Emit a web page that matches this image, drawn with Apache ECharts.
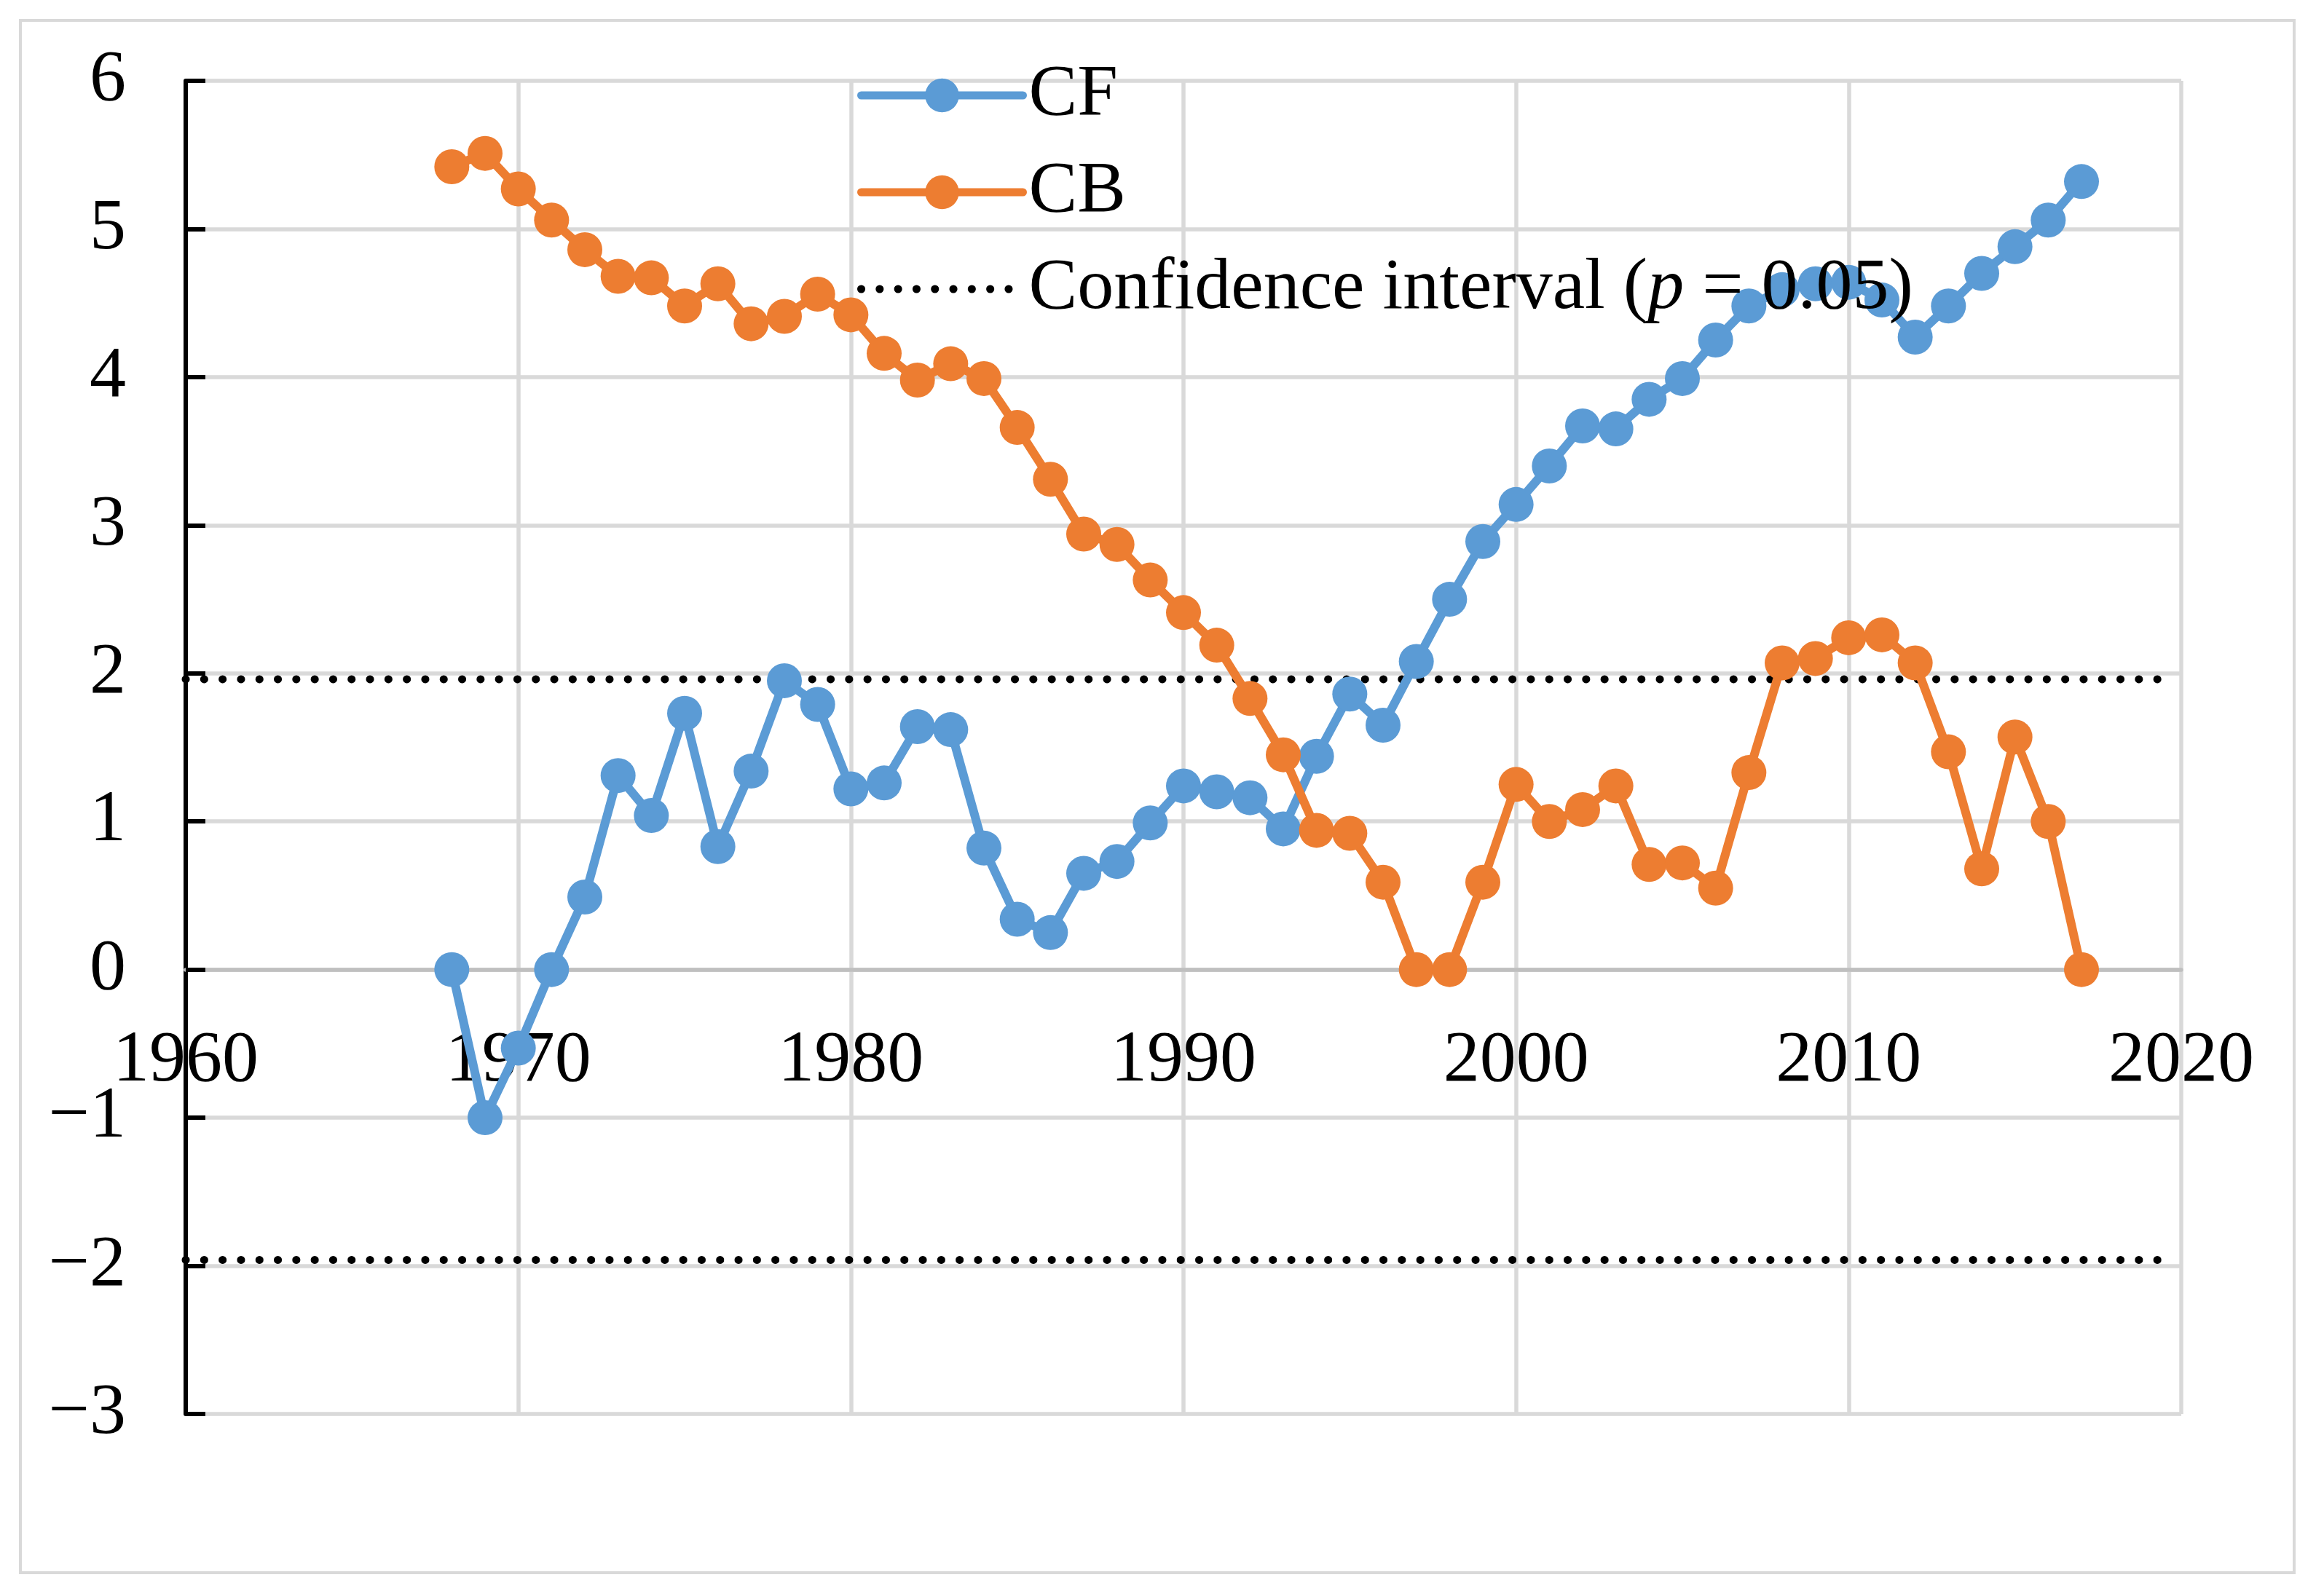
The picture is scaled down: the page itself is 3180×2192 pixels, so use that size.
<!DOCTYPE html>
<html>
<head>
<meta charset="utf-8">
<script src="https://cdn.jsdelivr.net/npm/echarts@6/dist/echarts.min.js"></script>
<style>
html,body{margin:0;padding:0;background:#fff;}
#chart{width:3180px;height:2192px;}
</style>
</head>
<body>
<div id="chart"></div>
<script>
var years = [1968,1969,1970,1971,1972,1973,1974,1975,1976,1977,1978,1979,1980,1981,1982,1983,1984,1985,1986,1987,1988,1989,1990,1991,1992,1993,1994,1995,1996,1997,1998,1999,2000,2001,2002,2003,2004,2005,2006,2007,2008,2009,2010,2011,2012,2013,2014,2015,2016,2017];
var cfValues = [0,-1.0,-0.53,0,0.49,1.31,1.04,1.73,0.83,1.34,1.95,1.79,1.22,1.26,1.64,1.62,0.82,0.34,0.25,0.65,0.73,0.99,1.24,1.2,1.16,0.95,1.44,1.86,1.65,2.08,2.5,2.89,3.14,3.40,3.67,3.65,3.85,3.99,4.25,4.48,4.59,4.63,4.64,4.52,4.27,4.48,4.70,4.88,5.06,5.32];
var cbValues = [5.42,5.51,5.27,5.06,4.86,4.68,4.67,4.48,4.63,4.36,4.41,4.56,4.42,4.16,3.98,4.09,3.99,3.66,3.31,2.94,2.87,2.63,2.41,2.19,1.83,1.45,0.94,0.92,0.59,0,0,0.59,1.25,1.0,1.08,1.24,0.71,0.72,0.55,1.33,2.07,2.10,2.24,2.26,2.07,1.47,0.68,1.57,1.0,0];
var ciUpper = [[1960,1.96],[2019.6,1.96]];
var ciLower = [[1960,-1.96],[2019.6,-1.96]];
var seriesNames = ['CF','CB','Confidence interval (p = 0.05)'];

function pairs(xs, ys){ return xs.map(function(x,i){ return [x, ys[i]]; }); }

var FONT = '"Liberation Serif","Times New Roman",serif';
var BLUE = '#5B9BD5', ORANGE = '#ED7D31';
var GRID_TOP = 111, GRID_BOTTOM = 250, H = 2192;
var plotH = H - GRID_TOP - GRID_BOTTOM;
var zeroOffset = -(plotH * 3 / 9);

var chart = echarts.init(document.getElementById('chart'));
var ciStyle = {color:'#000', width:11, type:[0.1,25.2], cap:'round'};
chart.setOption({
  animation:false,
  backgroundColor:'#fff',
  graphic:[{type:'rect', shape:{x:28,y:28,width:3122,height:2132}, style:{fill:'none', stroke:'#d9d9d9', lineWidth:4}, z:-1}],
  grid:{left:255, right:185, top:GRID_TOP, bottom:GRID_BOTTOM, containLabel:false},
  legend:{
    orient:'vertical', left:1172, top:76, itemGap:33,
    itemWidth:222, itemHeight:58,
    lineStyle:{width:11, cap:'round'},
    data:[{name:seriesNames[0]},{name:seriesNames[1]},{name:seriesNames[2], itemStyle:{opacity:0}}],
    formatter:function(n){ return n.indexOf('Confidence')===0 ? '{a|Confidence interval (}{i|p}{a| = 0.05)}' : '{a|'+n+'}'; },
    textStyle:{fontFamily:FONT, fontSize:100, color:'#000', padding:[0,0,0,3],
      rich:{a:{fontFamily:FONT,fontSize:100,color:'#000'}, i:{fontFamily:FONT,fontSize:100,fontStyle:'italic',color:'#000'}}}
  },
  xAxis:{
    type:'value', min:1960, max:2020, interval:10, position:'bottom', offset:zeroOffset,
    axisLine:{onZero:false, lineStyle:{color:'#bfbfbf', width:5.5}},
    axisTick:{show:false},
    axisLabel:{fontFamily:FONT, fontSize:100, color:'#000', margin:76, formatter:function(v){ return String(v); }},
    splitLine:{show:true, lineStyle:{color:'#d9d9d9', width:5.5}}
  },
  yAxis:{
    type:'value', min:-3, max:6, interval:1,
    axisLine:{show:true, onZero:false, lineStyle:{color:'#000', width:6}},
    axisTick:{show:true, inside:true, length:27, lineStyle:{color:'#000', width:6}},
    axisLabel:{fontFamily:FONT, fontSize:100, color:'#000', margin:82,
      formatter:function(v){ return String(v).replace('-', '\u2212'); }},
    splitLine:{show:true, lineStyle:{color:'#d9d9d9', width:5.5}}
  },
  series:[
    {name:seriesNames[0], type:'line', data:pairs(years,cfValues), symbol:'circle', symbolSize:48,
      lineStyle:{color:BLUE, width:12}, itemStyle:{color:BLUE}, z:3},
    {name:seriesNames[1], type:'line', data:pairs(years,cbValues), symbol:'circle', symbolSize:48,
      lineStyle:{color:ORANGE, width:12}, itemStyle:{color:ORANGE}, z:3},
    {name:seriesNames[2], type:'line', data:ciUpper, symbol:'none', lineStyle:ciStyle, itemStyle:{color:'#000'}, z:2},
    {name:seriesNames[2], type:'line', data:ciLower, symbol:'none', lineStyle:ciStyle, itemStyle:{color:'#000'}, z:2}
  ]
});
</script>
</body>
</html>
